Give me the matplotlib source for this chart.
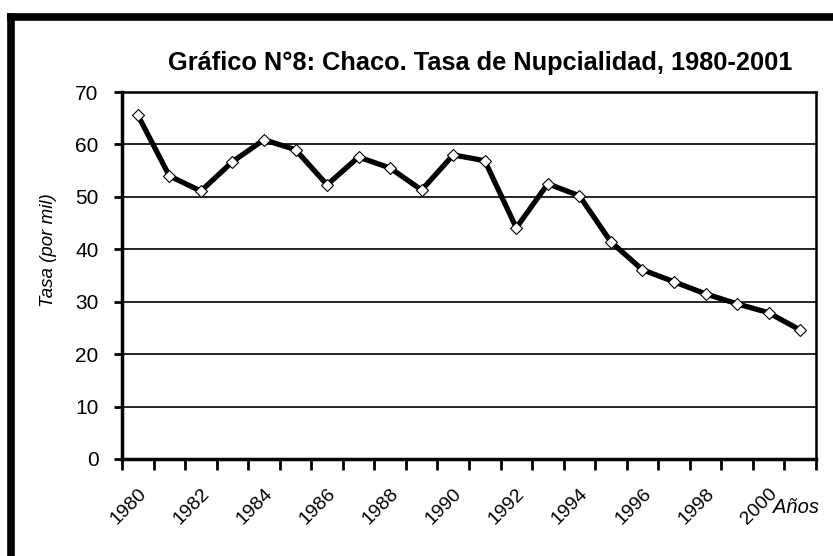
import numpy as np
import matplotlib.pyplot as plt
from matplotlib.lines import Line2D

# data
years = list(range(1980, 2002))
tasa = [65.6, 54.0, 51.1, 56.7, 60.9, 59.0, 52.3, 57.6, 55.5, 51.3, 58.0,
        56.9, 44.1, 52.5, 50.2, 41.4, 36.1, 33.8, 31.5, 29.6, 27.9, 24.6]
yticks = [0, 10, 20, 30, 40, 50, 60, 70]

plt.rcParams['font.family'] = ['Liberation Sans', 'DejaVu Sans']

fig = plt.figure(figsize=(8.33, 5.56), dpi=100)
ax = fig.add_axes([0.1465, 0.1745, 0.833, 0.66])

x = np.arange(len(years))
ax.plot(x, tasa, color='black', lw=3.8, marker='D', markersize=6.5,
        markerfacecolor='white', markeredgecolor='black', markeredgewidth=0.8,
        zorder=3)

ax.set_xlim(-0.5, len(years) - 0.5)
ax.set_ylim(0, 70)
ax.set_yticks(yticks)
ax.set_yticklabels([str(v) for v in yticks], fontsize=15)

# tick marks between categories, labels every two years
ax.set_xticks(np.arange(-0.5, len(years), 1.0))
ax.set_xticklabels([])
ax.set_xticks(x[::2], minor=True)
ax.set_xticklabels([str(y) for y in years[::2]], minor=True, rotation=45,
                   ha='right', va='top', rotation_mode='anchor', fontsize=14)
ax.tick_params(axis='x', which='major', length=8, width=2, direction='out')
ax.tick_params(axis='x', which='minor', length=0, pad=19)
ax.tick_params(axis='y', length=6, width=2, direction='out', pad=11)

for v in yticks[1:-1]:
    ax.axhline(v, color='black', lw=1.2, zorder=1)

for side in ['top', 'right']:
    ax.spines[side].set_linewidth(1.8)
for side in ['left', 'bottom']:
    ax.spines[side].set_linewidth(2.5)

ax.set_ylabel('Tasa (por mil)', fontsize=13.5, style='italic')
ax.yaxis.set_label_coords(-0.094, 0.57)
ax.text(1.005, -0.133, 'Años', transform=ax.transAxes, ha='right', va='center',
        fontsize=14.5, style='italic')

fig.text(0.577, 0.887, 'Gráfico N°8: Chaco. Tasa de Nupcialidad, 1980-2001',
         ha='center', va='center', fontsize=18.3, fontweight='bold')

# thick outer frame (left and top edges)
fig.add_artist(Line2D([0.0132, 0.0132], [0.0, 0.969], color='black', lw=5.5,
                      transform=fig.transFigure, solid_capstyle='projecting'))
fig.add_artist(Line2D([0.0132, 1.0], [0.969, 0.969], color='black', lw=5.5,
                      transform=fig.transFigure, solid_capstyle='projecting'))

fig.savefig('out.png', dpi=100)
